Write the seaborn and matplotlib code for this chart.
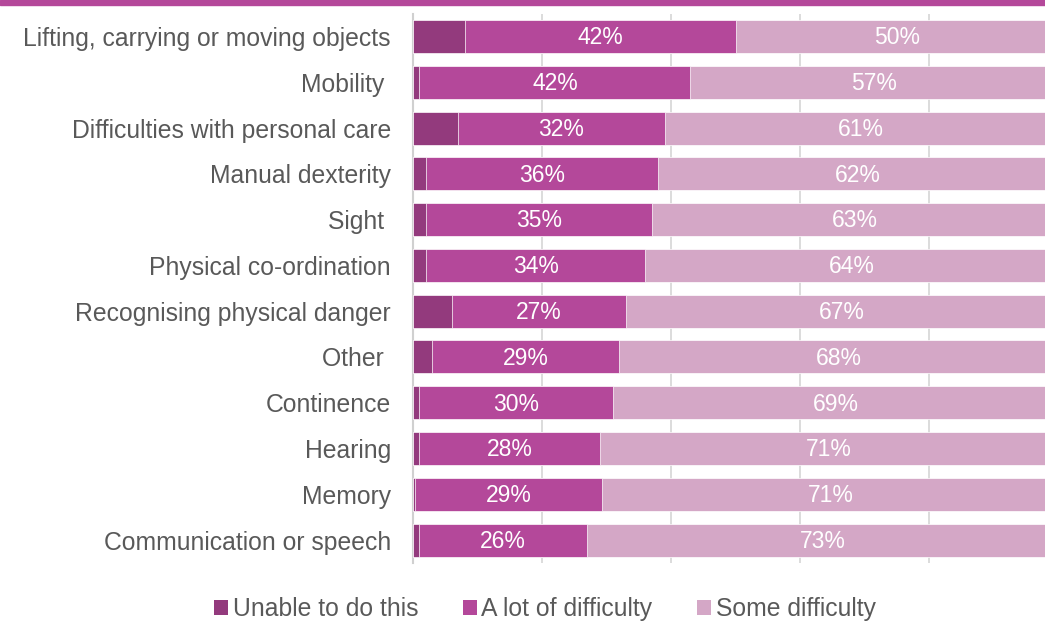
import matplotlib
matplotlib.use("Agg")
import matplotlib.pyplot as plt
import seaborn as sns
import pandas as pd
from matplotlib.patches import Patch

categories = [
    "Lifting, carrying or moving objects",
    "Mobility ",
    "Difficulties with personal care",
    "Manual dexterity",
    "Sight ",
    "Physical co-ordination",
    "Recognising physical danger",
    "Other ",
    "Continence",
    "Hearing",
    "Memory",
    "Communication or speech",
]
unable = [8, 1, 7, 2, 2, 2, 6, 3, 1, 1, 0.3, 1]
a_lot = [42, 42, 32, 36, 35, 34, 27, 29, 30, 28, 29, 26]
some = [50, 57, 61, 62, 63, 64, 67, 68, 69, 71, 71, 73]
series_names = ["Unable to do this", "A lot of difficulty", "Some difficulty"]
x_ticks = [0, 20, 40, 60, 80]

c_unable = "#933a7d"
c_lot = "#b4489a"
c_some = "#d4a7c6"
text_grey = "#595959"

sns.set_theme(style="white")
plt.rcParams["font.family"] = ["Liberation Sans", "DejaVu Sans"]

df = pd.DataFrame({"category": categories, "unable": unable, "lot": a_lot, "some": some})
df["cum_lot"] = df["unable"] + df["lot"]
df["cum_some"] = df["cum_lot"] + df["some"]

fig = plt.figure(figsize=(10.45, 6.21), dpi=100)
W, H = 1045, 621
left, right, top, bottom = 413, 1058, 13.6, 563
ax = fig.add_axes([left / W, 1 - bottom / H, (right - left) / W, (bottom - top) / H])

# stacked bars: draw cumulative totals back to front
kw = dict(orient="h", width=0.72, edgecolor="white", linewidth=0.5, saturation=1, ax=ax, zorder=3)
sns.barplot(data=df, x="cum_some", y="category", color=c_some, **kw)
sns.barplot(data=df, x="cum_lot", y="category", color=c_lot, **kw)
sns.barplot(data=df, x="unable", y="category", color=c_unable, **kw)

ax.set_xlim(0, 100)
ax.set_ylim(len(categories) - 0.5, -0.5)
ax.set_xticks(x_ticks)
ax.set_xticklabels([])
ax.tick_params(axis="x", length=0)
ax.tick_params(axis="y", length=0, pad=16, labelsize=17.8, labelcolor=text_grey)
ax.set_xlabel("")
ax.set_ylabel("")
ax.grid(axis="x", color="#d9d9d9", linewidth=1.3, zorder=0)
ax.set_axisbelow(True)
for s in ["top", "right", "bottom"]:
    ax.spines[s].set_visible(False)
ax.spines["left"].set_color("#d0d0d0")
ax.spines["left"].set_linewidth(1.5)
ax.spines["left"].set_zorder(1)

# value labels for the two larger segments
for i, row in df.iterrows():
    ax.text(row["unable"] + row["lot"] / 2, i + 0.03, f"{row['lot']:.0f}%", ha="center", va="center",
            color="white", fontsize=16.5, zorder=5)
    ax.text(row["cum_lot"] + row["some"] / 2, i + 0.03, f"{row['some']:.0f}%", ha="center", va="center",
            color="white", fontsize=16.5, zorder=5)

# top accent band
fig.add_artist(plt.Rectangle((0, 1 - 5 / H), 1, 5 / H, transform=fig.transFigure,
                             color=c_lot, zorder=10))

handles = [Patch(facecolor=c, edgecolor="none") for c in (c_unable, c_lot, c_some)]
fig.legend(handles, series_names, loc="center", bbox_to_anchor=(545 / W, 1 - 609 / H),
           ncol=3, frameon=False, fontsize=17.8, labelcolor=text_grey,
           handlelength=0.55, handleheight=0.55, handletextpad=0.2, columnspacing=1.8)

fig.savefig("out.png", dpi=100)
